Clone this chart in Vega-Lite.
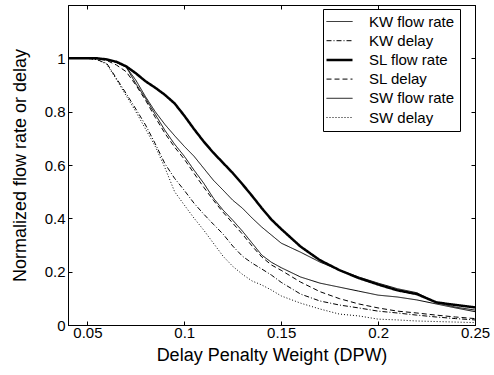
{
  "$schema": "https://vega.github.io/schema/vega-lite/v6.json",
  "width": 407,
  "height": 320,
  "autosize": {"type": "none"},
  "padding": {"left": 68, "top": 5, "right": 19, "bottom": 50},
  "background": "white",
  "data": {
    "values": [
      {"dpw": 0.04, "value": 1, "series": "KW flow rate"},
      {"dpw": 0.05, "value": 1, "series": "KW flow rate"},
      {"dpw": 0.055, "value": 1, "series": "KW flow rate"},
      {"dpw": 0.06, "value": 0.995, "series": "KW flow rate"},
      {"dpw": 0.065, "value": 0.985, "series": "KW flow rate"},
      {"dpw": 0.07, "value": 0.968, "series": "KW flow rate"},
      {"dpw": 0.075, "value": 0.918, "series": "KW flow rate"},
      {"dpw": 0.08, "value": 0.856, "series": "KW flow rate"},
      {"dpw": 0.085, "value": 0.8, "series": "KW flow rate"},
      {"dpw": 0.09, "value": 0.752, "series": "KW flow rate"},
      {"dpw": 0.095, "value": 0.71, "series": "KW flow rate"},
      {"dpw": 0.1, "value": 0.67, "series": "KW flow rate"},
      {"dpw": 0.105, "value": 0.633, "series": "KW flow rate"},
      {"dpw": 0.11, "value": 0.588, "series": "KW flow rate"},
      {"dpw": 0.115, "value": 0.543, "series": "KW flow rate"},
      {"dpw": 0.12, "value": 0.506, "series": "KW flow rate"},
      {"dpw": 0.125, "value": 0.468, "series": "KW flow rate"},
      {"dpw": 0.13, "value": 0.438, "series": "KW flow rate"},
      {"dpw": 0.135, "value": 0.401, "series": "KW flow rate"},
      {"dpw": 0.14, "value": 0.367, "series": "KW flow rate"},
      {"dpw": 0.145, "value": 0.337, "series": "KW flow rate"},
      {"dpw": 0.15, "value": 0.307, "series": "KW flow rate"},
      {"dpw": 0.16, "value": 0.273, "series": "KW flow rate"},
      {"dpw": 0.17, "value": 0.236, "series": "KW flow rate"},
      {"dpw": 0.18, "value": 0.206, "series": "KW flow rate"},
      {"dpw": 0.19, "value": 0.18, "series": "KW flow rate"},
      {"dpw": 0.2, "value": 0.157, "series": "KW flow rate"},
      {"dpw": 0.21, "value": 0.136, "series": "KW flow rate"},
      {"dpw": 0.22, "value": 0.121, "series": "KW flow rate"},
      {"dpw": 0.23, "value": 0.084, "series": "KW flow rate"},
      {"dpw": 0.24, "value": 0.067, "series": "KW flow rate"},
      {"dpw": 0.25, "value": 0.056, "series": "KW flow rate"},

      {"dpw": 0.04, "value": 1, "series": "KW delay"},
      {"dpw": 0.05, "value": 1, "series": "KW delay"},
      {"dpw": 0.055, "value": 0.995, "series": "KW delay"},
      {"dpw": 0.06, "value": 0.981, "series": "KW delay"},
      {"dpw": 0.065, "value": 0.925, "series": "KW delay"},
      {"dpw": 0.07, "value": 0.868, "series": "KW delay"},
      {"dpw": 0.075, "value": 0.81, "series": "KW delay"},
      {"dpw": 0.08, "value": 0.75, "series": "KW delay"},
      {"dpw": 0.085, "value": 0.68, "series": "KW delay"},
      {"dpw": 0.09, "value": 0.605, "series": "KW delay"},
      {"dpw": 0.095, "value": 0.55, "series": "KW delay"},
      {"dpw": 0.1, "value": 0.505, "series": "KW delay"},
      {"dpw": 0.105, "value": 0.457, "series": "KW delay"},
      {"dpw": 0.11, "value": 0.416, "series": "KW delay"},
      {"dpw": 0.115, "value": 0.378, "series": "KW delay"},
      {"dpw": 0.12, "value": 0.341, "series": "KW delay"},
      {"dpw": 0.125, "value": 0.296, "series": "KW delay"},
      {"dpw": 0.13, "value": 0.258, "series": "KW delay"},
      {"dpw": 0.135, "value": 0.232, "series": "KW delay"},
      {"dpw": 0.14, "value": 0.21, "series": "KW delay"},
      {"dpw": 0.145, "value": 0.187, "series": "KW delay"},
      {"dpw": 0.15, "value": 0.16, "series": "KW delay"},
      {"dpw": 0.16, "value": 0.116, "series": "KW delay"},
      {"dpw": 0.17, "value": 0.09, "series": "KW delay"},
      {"dpw": 0.18, "value": 0.075, "series": "KW delay"},
      {"dpw": 0.19, "value": 0.064, "series": "KW delay"},
      {"dpw": 0.2, "value": 0.052, "series": "KW delay"},
      {"dpw": 0.21, "value": 0.045, "series": "KW delay"},
      {"dpw": 0.22, "value": 0.037, "series": "KW delay"},
      {"dpw": 0.23, "value": 0.03, "series": "KW delay"},
      {"dpw": 0.24, "value": 0.024, "series": "KW delay"},
      {"dpw": 0.25, "value": 0.019, "series": "KW delay"},

      {"dpw": 0.04, "value": 1, "series": "SL flow rate"},
      {"dpw": 0.05, "value": 1, "series": "SL flow rate"},
      {"dpw": 0.055, "value": 1, "series": "SL flow rate"},
      {"dpw": 0.06, "value": 0.996, "series": "SL flow rate"},
      {"dpw": 0.065, "value": 0.987, "series": "SL flow rate"},
      {"dpw": 0.07, "value": 0.97, "series": "SL flow rate"},
      {"dpw": 0.075, "value": 0.944, "series": "SL flow rate"},
      {"dpw": 0.08, "value": 0.914, "series": "SL flow rate"},
      {"dpw": 0.085, "value": 0.89, "series": "SL flow rate"},
      {"dpw": 0.09, "value": 0.863, "series": "SL flow rate"},
      {"dpw": 0.095, "value": 0.831, "series": "SL flow rate"},
      {"dpw": 0.1, "value": 0.785, "series": "SL flow rate"},
      {"dpw": 0.105, "value": 0.735, "series": "SL flow rate"},
      {"dpw": 0.11, "value": 0.688, "series": "SL flow rate"},
      {"dpw": 0.115, "value": 0.646, "series": "SL flow rate"},
      {"dpw": 0.12, "value": 0.608, "series": "SL flow rate"},
      {"dpw": 0.125, "value": 0.57, "series": "SL flow rate"},
      {"dpw": 0.13, "value": 0.528, "series": "SL flow rate"},
      {"dpw": 0.135, "value": 0.484, "series": "SL flow rate"},
      {"dpw": 0.14, "value": 0.438, "series": "SL flow rate"},
      {"dpw": 0.145, "value": 0.395, "series": "SL flow rate"},
      {"dpw": 0.15, "value": 0.36, "series": "SL flow rate"},
      {"dpw": 0.16, "value": 0.294, "series": "SL flow rate"},
      {"dpw": 0.17, "value": 0.243, "series": "SL flow rate"},
      {"dpw": 0.18, "value": 0.206, "series": "SL flow rate"},
      {"dpw": 0.19, "value": 0.176, "series": "SL flow rate"},
      {"dpw": 0.2, "value": 0.152, "series": "SL flow rate"},
      {"dpw": 0.21, "value": 0.13, "series": "SL flow rate"},
      {"dpw": 0.22, "value": 0.116, "series": "SL flow rate"},
      {"dpw": 0.23, "value": 0.085, "series": "SL flow rate"},
      {"dpw": 0.24, "value": 0.075, "series": "SL flow rate"},
      {"dpw": 0.25, "value": 0.066, "series": "SL flow rate"},

      {"dpw": 0.04, "value": 1, "series": "SL delay"},
      {"dpw": 0.05, "value": 1, "series": "SL delay"},
      {"dpw": 0.055, "value": 0.998, "series": "SL delay"},
      {"dpw": 0.06, "value": 0.992, "series": "SL delay"},
      {"dpw": 0.065, "value": 0.975, "series": "SL delay"},
      {"dpw": 0.07, "value": 0.95, "series": "SL delay"},
      {"dpw": 0.075, "value": 0.9, "series": "SL delay"},
      {"dpw": 0.08, "value": 0.843, "series": "SL delay"},
      {"dpw": 0.085, "value": 0.779, "series": "SL delay"},
      {"dpw": 0.09, "value": 0.719, "series": "SL delay"},
      {"dpw": 0.095, "value": 0.667, "series": "SL delay"},
      {"dpw": 0.1, "value": 0.622, "series": "SL delay"},
      {"dpw": 0.105, "value": 0.569, "series": "SL delay"},
      {"dpw": 0.11, "value": 0.517, "series": "SL delay"},
      {"dpw": 0.115, "value": 0.468, "series": "SL delay"},
      {"dpw": 0.12, "value": 0.423, "series": "SL delay"},
      {"dpw": 0.125, "value": 0.382, "series": "SL delay"},
      {"dpw": 0.13, "value": 0.341, "series": "SL delay"},
      {"dpw": 0.135, "value": 0.296, "series": "SL delay"},
      {"dpw": 0.14, "value": 0.255, "series": "SL delay"},
      {"dpw": 0.145, "value": 0.225, "series": "SL delay"},
      {"dpw": 0.15, "value": 0.205, "series": "SL delay"},
      {"dpw": 0.16, "value": 0.161, "series": "SL delay"},
      {"dpw": 0.17, "value": 0.125, "series": "SL delay"},
      {"dpw": 0.18, "value": 0.099, "series": "SL delay"},
      {"dpw": 0.19, "value": 0.079, "series": "SL delay"},
      {"dpw": 0.2, "value": 0.064, "series": "SL delay"},
      {"dpw": 0.21, "value": 0.052, "series": "SL delay"},
      {"dpw": 0.22, "value": 0.045, "series": "SL delay"},
      {"dpw": 0.23, "value": 0.037, "series": "SL delay"},
      {"dpw": 0.24, "value": 0.03, "series": "SL delay"},
      {"dpw": 0.25, "value": 0.024, "series": "SL delay"},

      {"dpw": 0.04, "value": 1, "series": "SW flow rate"},
      {"dpw": 0.05, "value": 1, "series": "SW flow rate"},
      {"dpw": 0.055, "value": 1, "series": "SW flow rate"},
      {"dpw": 0.06, "value": 0.995, "series": "SW flow rate"},
      {"dpw": 0.065, "value": 0.985, "series": "SW flow rate"},
      {"dpw": 0.07, "value": 0.968, "series": "SW flow rate"},
      {"dpw": 0.075, "value": 0.905, "series": "SW flow rate"},
      {"dpw": 0.08, "value": 0.85, "series": "SW flow rate"},
      {"dpw": 0.085, "value": 0.79, "series": "SW flow rate"},
      {"dpw": 0.09, "value": 0.73, "series": "SW flow rate"},
      {"dpw": 0.095, "value": 0.678, "series": "SW flow rate"},
      {"dpw": 0.1, "value": 0.633, "series": "SW flow rate"},
      {"dpw": 0.105, "value": 0.581, "series": "SW flow rate"},
      {"dpw": 0.11, "value": 0.532, "series": "SW flow rate"},
      {"dpw": 0.115, "value": 0.476, "series": "SW flow rate"},
      {"dpw": 0.12, "value": 0.431, "series": "SW flow rate"},
      {"dpw": 0.125, "value": 0.393, "series": "SW flow rate"},
      {"dpw": 0.13, "value": 0.352, "series": "SW flow rate"},
      {"dpw": 0.135, "value": 0.307, "series": "SW flow rate"},
      {"dpw": 0.14, "value": 0.262, "series": "SW flow rate"},
      {"dpw": 0.145, "value": 0.235, "series": "SW flow rate"},
      {"dpw": 0.15, "value": 0.215, "series": "SW flow rate"},
      {"dpw": 0.16, "value": 0.18, "series": "SW flow rate"},
      {"dpw": 0.17, "value": 0.157, "series": "SW flow rate"},
      {"dpw": 0.18, "value": 0.142, "series": "SW flow rate"},
      {"dpw": 0.19, "value": 0.127, "series": "SW flow rate"},
      {"dpw": 0.2, "value": 0.112, "series": "SW flow rate"},
      {"dpw": 0.21, "value": 0.105, "series": "SW flow rate"},
      {"dpw": 0.22, "value": 0.094, "series": "SW flow rate"},
      {"dpw": 0.23, "value": 0.079, "series": "SW flow rate"},
      {"dpw": 0.24, "value": 0.064, "series": "SW flow rate"},
      {"dpw": 0.25, "value": 0.05, "series": "SW flow rate"},

      {"dpw": 0.04, "value": 1, "series": "SW delay"},
      {"dpw": 0.05, "value": 1, "series": "SW delay"},
      {"dpw": 0.055, "value": 0.995, "series": "SW delay"},
      {"dpw": 0.06, "value": 0.978, "series": "SW delay"},
      {"dpw": 0.065, "value": 0.92, "series": "SW delay"},
      {"dpw": 0.07, "value": 0.86, "series": "SW delay"},
      {"dpw": 0.075, "value": 0.8, "series": "SW delay"},
      {"dpw": 0.08, "value": 0.735, "series": "SW delay"},
      {"dpw": 0.085, "value": 0.67, "series": "SW delay"},
      {"dpw": 0.09, "value": 0.59, "series": "SW delay"},
      {"dpw": 0.095, "value": 0.5, "series": "SW delay"},
      {"dpw": 0.1, "value": 0.45, "series": "SW delay"},
      {"dpw": 0.105, "value": 0.401, "series": "SW delay"},
      {"dpw": 0.11, "value": 0.356, "series": "SW delay"},
      {"dpw": 0.115, "value": 0.307, "series": "SW delay"},
      {"dpw": 0.12, "value": 0.258, "series": "SW delay"},
      {"dpw": 0.125, "value": 0.22, "series": "SW delay"},
      {"dpw": 0.13, "value": 0.19, "series": "SW delay"},
      {"dpw": 0.135, "value": 0.165, "series": "SW delay"},
      {"dpw": 0.14, "value": 0.15, "series": "SW delay"},
      {"dpw": 0.145, "value": 0.131, "series": "SW delay"},
      {"dpw": 0.15, "value": 0.109, "series": "SW delay"},
      {"dpw": 0.16, "value": 0.082, "series": "SW delay"},
      {"dpw": 0.17, "value": 0.06, "series": "SW delay"},
      {"dpw": 0.18, "value": 0.041, "series": "SW delay"},
      {"dpw": 0.19, "value": 0.034, "series": "SW delay"},
      {"dpw": 0.2, "value": 0.022, "series": "SW delay"},
      {"dpw": 0.21, "value": 0.019, "series": "SW delay"},
      {"dpw": 0.22, "value": 0.015, "series": "SW delay"},
      {"dpw": 0.23, "value": 0.013, "series": "SW delay"},
      {"dpw": 0.24, "value": 0.011, "series": "SW delay"},
      {"dpw": 0.25, "value": 0.009, "series": "SW delay"}
    ]
  },
  "layer": [
    {
      "mark": {"type": "line", "stroke": "black", "clip": true},
      "encoding": {
        "x": {
          "field": "dpw",
          "type": "quantitative",
          "scale": {"domain": [0.04, 0.25], "nice": false, "zero": false},
          "axis": {
            "orient": "bottom",
            "values": [0.05, 0.1, 0.15, 0.2, 0.25],
            "format": "~g",
            "labelFlush": false,
            "labelPadding": 4,
            "title": "Delay Penalty Weight (DPW)",
            "titlePadding": 6
          }
        },
        "y": {
          "field": "value",
          "type": "quantitative",
          "scale": {"domain": [0, 1.2], "nice": false},
          "axis": {
            "orient": "left",
            "values": [0, 0.2, 0.4, 0.6, 0.8, 1],
            "format": "~g",
            "labelFlush": false,
            "labelPadding": 7,
            "title": "Normalized flow rate or delay",
            "titlePadding": 15
          }
        },
        "strokeDash": {
          "field": "series",
          "type": "nominal",
          "scale": {
            "domain": ["KW flow rate", "KW delay", "SL flow rate", "SL delay", "SW flow rate", "SW delay"],
            "range": [[1, 0], [5, 2, 1, 2], [1, 0], [5, 3], [1, 0], [1, 2]]
          },
          "legend": {
            "title": null,
            "orient": "none",
            "legendX": 255,
            "legendY": 4,
            "symbolType": "M-2,0H2",
            "symbolSize": 169,
            "symbolOffset": 4,
            "symbolStrokeColor": "black",
            "symbolStrokeWidth": {"expr": "datum.value === 'SL flow rate' ? 2.5 : 1"},
            "labelOffset": 22,
            "rowPadding": 3.2,
            "padding": 5
          }
        },
        "strokeWidth": {"condition": {"test": "datum.series === 'SL flow rate'", "value": 2.5}, "value": 1}
      }
    },
    {
      "mark": {"type": "line", "strokeOpacity": 0},
      "encoding": {
        "x": {
          "field": "dpw",
          "type": "quantitative",
          "scale": {"domain": [0.04, 0.25], "nice": false, "zero": false},
          "axis": {"orient": "top", "values": [0.05, 0.1, 0.15, 0.2, 0.25], "labels": false, "title": null}
        },
        "y": {
          "field": "value",
          "type": "quantitative",
          "scale": {"domain": [0, 1.2], "nice": false},
          "axis": {"orient": "right", "values": [0, 0.2, 0.4, 0.6, 0.8, 1], "labels": false, "title": null}
        }
      }
    }
  ],
  "resolve": {"axis": {"x": "independent", "y": "independent"}},
  "config": {
    "view": {"stroke": "black", "strokeWidth": 1},
    "axis": {
      "grid": false,
      "domainColor": "black",
      "domainWidth": 1,
      "tickColor": "black",
      "tickSize": -4,
      "tickWidth": 1,
      "labelColor": "black",
      "titleColor": "black",
      "labelFont": "Liberation Sans",
      "titleFont": "Liberation Sans",
      "labelFontSize": 15,
      "titleFontSize": 18,
      "titleFontWeight": "normal"
    },
    "legend": {
      "strokeColor": "black",
      "fillColor": "white",
      "labelFont": "Liberation Sans",
      "labelFontSize": 15,
      "labelColor": "black",
      "symbolFillColor": "transparent"
    }
  }
}
